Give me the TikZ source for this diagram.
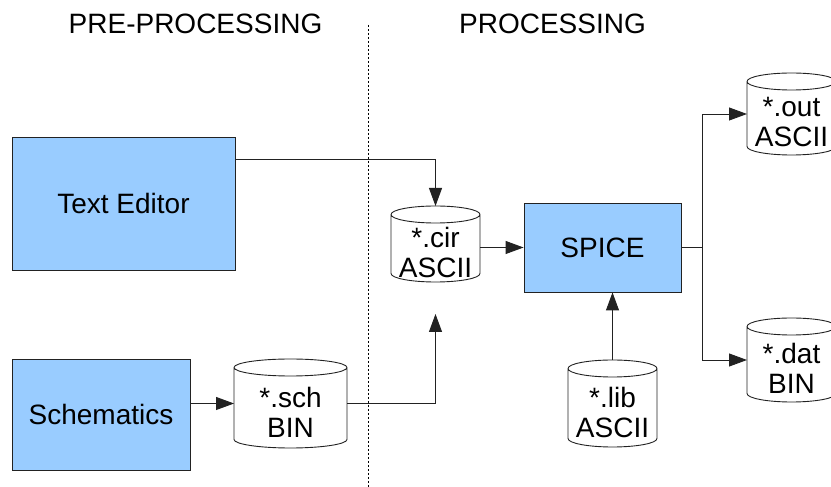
\documentclass[tikz,border=0pt]{standalone}
\usepackage{fontspec}
\setmainfont{Liberation Sans}
\usetikzlibrary{arrows.meta,calc}

\definecolor{boxblue}{HTML}{99CCFF}
\definecolor{edge}{HTML}{222222}

% vertical radius of the cylinder end caps
\newcommand\capr{8.5}

% outline of a data-file cylinder drawn round the (invisible) node #1
\newcommand\drawdatafile[1]{%
  \draw[cylline] let \p1=(#1.north west), \p2=(#1.south east),
      \n1={(\x2-\x1)/2} in
    (\x1,{\y1-\capr}) -- (\x1,{\y2+\capr})
      arc[start angle=180,end angle=360,x radius=\n1,y radius=\capr pt]
      -- (\x2,{\y1-\capr})
      arc[start angle=0,end angle=180,x radius=\n1,y radius=\capr pt]
      -- cycle
    (\x1,{\y1-\capr})
      arc[start angle=180,end angle=360,x radius=\n1,y radius=\capr pt];}

\begin{document}
\begin{tikzpicture}[x=1pt,y=1pt,
    txt/.style={font=\fontsize{28}{30}\selectfont},
    procbox/.style={txt,draw=edge,line width=0.9pt,fill=boxblue,
      inner sep=0pt},
    filebox/.style={inner sep=0pt,outer sep=0pt,draw=none},
    filetext/.style={txt,align=center,inner sep=0pt},
    cylline/.style={draw=edge,line width=0.9pt,fill=white},
    conn/.style={draw=edge,line width=0.9pt},
    arr/.style={conn,-{Triangle[length=18pt,width=13pt]}},
    header/.style={txt,anchor=base}]

\clip (0,0) rectangle (831,487);
\fill[white] (0,0) rectangle (831,487);

% section headings and separator
\node[header] (pre) at (195.5,453) {PRE-PROCESSING};
\node[header] (proc) at (552.5,453) {PROCESSING};
\coordinate (sepTop) at (368.5,462);
\coordinate (sepBot) at (368.5,0);
\draw[line width=1pt,dash pattern=on 2pt off 2pt] (sepTop) -- (sepBot);

% programs
\node[procbox,minimum width=223pt,minimum height=133pt] (te) at (123.5,283.5) {Text Editor};
\node[procbox,minimum width=178pt,minimum height=111pt] (sc) at (101,72.5) {Schematics};
\node[procbox,minimum width=157pt,minimum height=89pt] (sp) at (602.5,239.5) {SPICE};

% data files
\node[filebox,minimum width=89pt,minimum height=76pt] (cir) at (435.5,243) {};
\node[filebox,minimum width=113pt,minimum height=89pt] (sch) at (290.5,83.5) {};
\node[filebox,minimum width=89pt,minimum height=87pt] (lib) at (612.5,83.5) {};
\node[filebox,minimum width=89pt,minimum height=82pt] (out) at (791.5,373) {};
\node[filebox,minimum width=89pt,minimum height=84pt] (dat) at (791.5,127) {};

\drawdatafile{cir}
\drawdatafile{sch}
\drawdatafile{lib}
\drawdatafile{out}
\drawdatafile{dat}

\node[filetext] (cirT) at ([yshift=-\capr pt]cir.center) {*.cir\\ASCII};
\node[filetext] (schT) at ([yshift=-\capr pt]sch.center) {*.sch\\BIN};
\node[filetext] (libT) at ([yshift=-\capr pt]lib.center) {*.lib\\ASCII};
\node[filetext] (outT) at ([yshift=-\capr pt]out.center) {*.out\\ASCII};
\node[filetext] (datT) at ([yshift=-\capr pt]dat.center) {*.dat\\BIN};

% connectors
\draw[arr] ([yshift=44.5pt]te.east) -| (cir.north);
\draw[arr] (sc.east |- sch.west) -- (sch.west);
\coordinate (schIn) at (435.5,173);
\draw[arr] (sch.east) -| (schIn);
\draw[arr] (cir.east |- sp.west) -- (sp.west);
\coordinate (fork) at (702.5,239.5);
\draw[conn] (sp.east) -- (fork);
\draw[arr] (fork) |- (out.west);
\draw[arr] (fork) |- (dat.west);
\draw[arr] (lib.north) -- (lib.north |- sp.south);

\end{tikzpicture}
\end{document}
